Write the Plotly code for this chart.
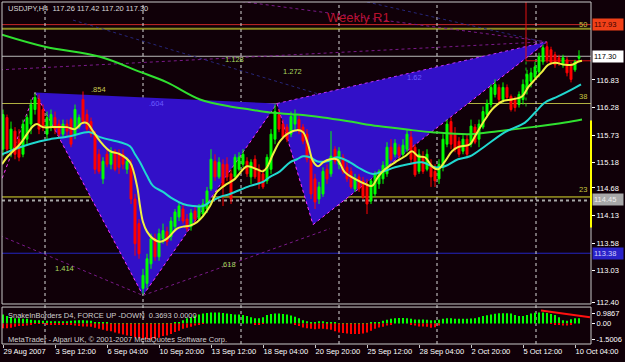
import plotly.graph_objects as go

# ---------------- data ----------------
title_text = "USDJPY,H4  117.26 117.42 117.20 117.30"

opens = [115.45, 116.08, 115.45, 115.81, 115.65, 115.35, 115.65, 115.95, 116.24, 116.44,
         116.24, 115.75, 115.89, 116.08, 115.95, 115.75, 115.95, 116.04, 115.75, 115.89,
         116.44, 116.14, 116.00, 115.75, 115.35, 114.86, 115.35, 115.15, 115.41, 115.35,
         115.35, 115.05, 115.15, 114.46, 113.97, 112.68, 112.78, 113.17, 113.67, 113.31,
         113.67, 113.81, 113.71, 113.91, 114.10, 114.26, 114.06, 113.91, 114.22, 114.06,
         114.16, 114.26, 114.66, 115.21, 114.90, 115.15, 115.15, 114.96, 114.90, 115.05,
         115.15, 115.21, 114.90, 115.25, 115.05, 114.96, 114.82, 115.05, 115.65, 116.14,
         115.95, 115.89, 115.75, 115.95, 116.04, 115.89, 115.75, 115.25, 114.86, 114.46,
         114.56, 115.05, 114.96, 115.45, 115.15, 115.29, 115.09, 115.01, 114.66, 114.90,
         114.82, 114.76, 114.42, 114.56, 114.76, 114.86, 114.96, 115.49, 115.35, 115.49,
         115.35, 115.45, 115.69, 115.49, 115.01, 115.29, 115.05, 115.15, 115.01, 114.86,
         115.09, 115.55, 116.00, 115.75, 115.61, 115.41, 115.65, 115.55, 115.89, 115.65,
         115.89, 116.14, 116.34, 116.54, 116.68, 116.44, 116.68, 116.50, 116.44, 116.34,
         116.44, 116.64, 116.80, 116.88, 116.99, 117.19, 117.49, 117.43, 117.33, 117.27,
         117.13, 117.23, 117.13, 117.03, 117.26]
highs = [116.24, 116.14, 116.00, 115.89, 115.85, 116.04, 116.14, 116.44, 116.58, 116.54,
         116.34, 116.20, 116.24, 116.20, 116.04, 116.04, 116.04, 116.08, 116.34, 116.14,
         116.60, 116.24, 116.08, 115.81, 115.45, 115.29, 115.45, 115.49, 115.45, 115.45,
         115.45, 115.29, 115.25, 114.56, 114.06, 113.07, 113.37, 113.77, 113.77, 113.87,
         113.97, 113.91, 114.10, 114.26, 114.40, 114.34, 114.16, 114.26, 114.32, 114.36,
         114.46, 114.70, 115.45, 115.35, 115.29, 115.25, 115.29, 115.05, 115.35, 115.39,
         115.45, 115.29, 115.25, 115.33, 115.15, 115.05, 115.35, 115.85, 116.34, 116.24,
         116.04, 115.95, 116.20, 116.24, 116.12, 115.95, 115.85, 115.35, 114.96, 114.80,
         115.09, 115.15, 115.81, 115.51, 115.49, 115.35, 115.19, 115.09, 114.96, 114.96,
         114.90, 114.86, 114.86, 115.01, 115.05, 115.21, 115.59, 115.65, 115.65, 115.55,
         115.65, 115.85, 115.81, 115.55, 115.45, 115.41, 115.45, 115.25, 115.15, 115.25,
         115.75, 116.04, 116.08, 115.89, 115.69, 115.73, 115.75, 116.04, 115.95, 116.04,
         116.30, 116.44, 116.74, 116.84, 116.74, 116.78, 116.74, 116.54, 116.50, 116.60,
         116.84, 117.03, 117.07, 117.19, 117.37, 117.53, 117.59, 117.49, 117.39, 117.33,
         117.33, 117.29, 117.19, 117.23, 117.42]
lows = [115.31, 115.35, 115.29, 115.25, 115.21, 115.29, 115.55, 115.75, 116.14, 115.75,
        115.81, 115.65, 115.81, 115.75, 115.65, 115.69, 115.69, 115.49, 115.65, 115.85,
        115.95, 115.79, 115.69, 114.96, 114.96, 114.76, 115.09, 115.05, 115.01, 114.96,
        115.05, 114.96, 114.36, 113.33, 113.27, 112.54, 112.68, 113.07, 113.23, 113.23,
        113.57, 113.53, 113.63, 113.83, 114.02, 113.97, 113.81, 113.83, 113.97, 114.02,
        114.10, 114.18, 114.62, 114.82, 114.86, 114.32, 114.82, 114.36, 114.86, 115.01,
        115.09, 114.90, 114.76, 114.86, 114.66, 114.66, 114.76, 114.96, 115.55, 115.79,
        115.65, 115.59, 115.69, 115.85, 115.75, 115.55, 115.19, 114.46, 114.26, 114.36,
        114.50, 114.76, 114.90, 115.15, 115.05, 114.96, 114.80, 114.66, 114.60, 114.60,
        114.46, 114.16, 114.36, 114.50, 114.66, 114.76, 114.90, 115.21, 115.29, 115.25,
        115.29, 115.39, 115.15, 114.90, 114.96, 114.96, 115.01, 114.70, 114.70, 114.76,
        115.01, 115.49, 115.45, 115.39, 115.29, 115.35, 115.29, 115.49, 115.55, 115.49,
        115.85, 116.08, 116.28, 116.48, 116.38, 116.38, 116.44, 116.20, 116.20, 116.28,
        116.34, 116.54, 116.68, 116.84, 116.88, 117.13, 117.17, 117.13, 117.07, 117.11,
        117.07, 116.90, 116.78, 116.99, 117.20]
closes = [116.14, 115.45, 115.85, 115.35, 115.29, 115.95, 116.08, 116.34, 116.48, 115.85,
          115.89, 116.08, 116.14, 115.85, 115.75, 115.95, 115.81, 115.55, 116.24, 116.08,
          116.00, 115.85, 115.75, 115.05, 115.01, 115.21, 115.15, 115.41, 115.05, 115.09,
          115.15, 115.21, 114.46, 113.57, 113.37, 112.94, 113.27, 113.67, 113.31, 113.77,
          113.83, 113.61, 114.02, 114.20, 114.32, 114.02, 113.87, 114.18, 114.06, 114.30,
          114.36, 114.62, 115.25, 114.90, 115.19, 114.70, 114.90, 114.46, 115.29, 115.29,
          115.35, 114.96, 115.19, 114.90, 114.76, 114.70, 115.29, 115.75, 116.20, 115.85,
          115.69, 115.65, 116.10, 116.14, 115.81, 115.61, 115.25, 114.56, 114.40, 114.70,
          115.01, 114.86, 115.31, 115.21, 115.41, 115.01, 114.86, 114.70, 114.86, 114.66,
          114.50, 114.36, 114.82, 114.96, 115.01, 115.13, 115.49, 115.25, 115.57, 115.33,
          115.53, 115.75, 115.25, 114.94, 115.35, 115.01, 115.35, 114.90, 114.82, 115.15,
          115.65, 115.95, 115.55, 115.45, 115.35, 115.65, 115.35, 115.91, 115.59, 115.95,
          116.20, 116.36, 116.68, 116.74, 116.44, 116.68, 116.48, 116.24, 116.28, 116.54,
          116.74, 116.94, 116.97, 117.09, 117.29, 117.47, 117.23, 117.17, 117.13, 117.19,
          117.27, 116.97, 116.84, 117.19, 117.30]
bar_index = list(range(len(closes)))

# moving averages (bar, price)
ma_fast_bars = [-0.25, 1, 2.5, 4.25, 6, 7.5, 8.5, 10, 12.5, 16, 18, 19.75, 21, 22.5, 24.25, 26.75,
                29.25, 31.75, 33.5, 34.25, 35, 36, 37.5, 39.25, 41, 43.5, 45, 46.75, 48.5, 50,
                51.75, 53.5, 56, 58, 61, 63.5, 65, 66, 67.5, 69.25, 71, 73.5, 75, 76.25, 77.5,
                78.75, 80, 81.75, 83.5, 85.5, 88, 90.5, 92.25, 93.75, 95.5, 98, 100.5, 102.25,
                103.75, 105.5, 107.25, 108.75, 110.5, 112.25, 113.75, 116.75, 118, 120.5, 122.25,
                124.75, 127.25, 129.75, 131.25, 133, 134.75, 136.25, 138, 140.5, 142.25, 143.75, 144.75]
ma_fast_vals = [115.15, 115.29, 115.41, 115.55, 115.75, 115.91, 115.95, 115.89, 115.89, 115.89,
                115.85, 115.97, 115.97, 115.81, 115.61, 115.41, 115.35, 115.19, 114.72, 114.32,
                114.00, 113.81, 113.67, 113.61, 113.67, 113.87, 113.91, 113.93, 114.00, 114.12,
                114.32, 114.60, 114.76, 114.86, 115.11, 115.05, 115.01, 115.09, 115.35, 115.61,
                115.75, 115.83, 115.79, 115.55, 115.21, 115.11, 115.19, 115.25, 115.25, 114.99,
                114.86, 114.76, 114.72, 114.90, 115.05, 115.19, 115.31, 115.41, 115.31, 115.29,
                115.11, 115.05, 115.21, 115.41, 115.49, 115.55, 115.71, 116.04, 116.24, 116.40,
                116.44, 116.50, 116.68, 116.84, 116.99, 117.13, 117.17, 117.13, 117.13, 117.19, 117.21]

ma_mid_bars = [-0.25, 4.25, 9.25, 11.75, 16.75, 21.75, 24.25, 29.25, 31.75, 33, 34.25, 36, 37.5,
               40, 42.5, 45, 47.5, 50, 51.75, 54.25, 56.75, 61.75, 65, 66.75, 69.25, 71.75, 73.5,
               75, 76.75, 78.5, 81, 83.5, 86.75, 88.75, 92.25, 94.75, 98, 101.25, 104.75, 108,
               110.5, 113.75, 116.75, 120.5, 125.5, 130.5, 133, 135.5, 138.75, 142.25, 144.5]
ma_mid_vals = [115.35, 115.49, 115.61, 115.65, 115.71, 115.79, 115.69, 115.59, 115.51, 115.35,
               115.19, 114.92, 114.72, 114.60, 114.46, 114.36, 114.32, 114.32, 114.40, 114.50,
               114.56, 114.72, 114.80, 114.90, 115.01, 115.19, 115.25, 115.31, 115.29, 115.21,
               115.21, 115.29, 115.19, 115.09, 114.96, 115.00, 115.09, 115.15, 115.19, 115.09,
               115.11, 115.25, 115.31, 115.51, 115.79, 115.98, 116.18, 116.38, 116.50, 116.64, 116.74]

ma_slow_bars = [-0.25, 10.5, 24.25, 34.25, 41, 49.25, 56.75, 61.75, 66.75, 73.5, 80, 86.75,
                93.75, 102.25, 107.25, 116.75, 123.75, 132.25, 140.5, 144.75]
ma_slow_vals = [117.73, 117.49, 117.29, 116.99, 116.78, 116.44, 116.30, 116.24, 116.18, 116.14,
                116.08, 116.00, 115.91, 115.83, 115.79, 115.75, 115.81, 115.89, 115.98, 116.04]

# harmonic pattern points X, A, B, C, D (bar, price)
pattern_names = ["X", "A", "B", "C", "D"]
pattern_bars = [8, 35, 68.5, 77.5, 136]
pattern_prices = [116.58, 112.54, 116.36, 113.95, 117.59]
zigzag_start = (-0.75, 114.76)

# faint projection lines ((bar0, price0), (bar1, price1), colour)
proj_lines = [((-0.75, 117.03), (136, 117.59), "#7a1a8a"),
              ((56.75, 118.42), (136, 117.59), "#7a1a8a"),
              ((91, 118.38), (136, 117.57), "#26267a"),
              ((17.5, 118.02), (79.25, 116.54), "#26267a"),
              ((-0.75, 113.73), (35, 112.54), "#7a1a8a"),
              ((35, 112.54), (81.75, 113.87), "#7a1a8a")]

# ratio labels
ratio_texts = [".854", "1.128", "1.272", ".604", "1.62", "1.414", ".618"]
ratio_bars = [23.75, 57.75, 72.25, 38.25, 102.75, 15.25, 56.25]
ratio_prices = [116.64, 117.23, 117.00, 116.36, 116.88, 113.07, 113.15]
ratio_colors = ["#c8c850", "#a8d860", "#a8d860", "#6a5cff", "#6a5cff", "#a8d860", "#a8d860"]

# horizontal levels
weekly_r1 = 117.93
fib_levels = [117.85, 116.36, 114.50]
fib_labels = ["50", "38", "23"]
bid_price = 117.30
gray_level = 114.43
blue_level = 113.38
cross_bar = 130.75
cross_price = 117.21
cross_low = 116.30
axis_marker = (113.89, 116.02)

# axis ticks
price_ticks = [116.83, 116.28, 115.73, 115.18, 114.68, 114.13, 113.58, 113.03, 112.40]
price_labels = ["116.83", "116.28", "115.73", "115.18", "114.68", "114.13", "113.58", "113.03", "112.40"]
tag_prices = [117.93, 117.30, 114.45, 113.38]
tag_texts = ["117.93", "117.30", "114.45", "113.38"]
tag_bg = ["#f04018", "#ffffff", "#a8a8a8", "#2a22c8"]
tag_fg = ["#3a0000", "#000000", "#eeeeee", "#d0d0ff"]

osc_ticks = [0.9867, 0.0, -1.5006]
osc_labels = ["0.9867", "0.00", "-1.5006"]

time_tick_bars = [0, 13, 26, 39, 52, 65, 78, 91, 104, 117, 130, 143]
time_tick_labels = ["29 Aug 2007", "3 Sep 12:00", "6 Sep 04:00", "10 Sep 20:00", "13 Sep 12:00",
                    "18 Sep 04:00", "20 Sep 20:00", "25 Sep 12:00", "28 Sep 04:00", "2 Oct 20:00",
                    "5 Oct 12:00", "10 Oct 04:00"]
grid_bars = [10.5, 35, 59.5, 84, 108.5, 133.25]

# oscillator (force up / down)
osc_up = [0.86, 0.70, 0.60, 0.50, 0.50, 0.45, 0.45, 0.35, 0.30, 0.30,
          0.25, 0.25, 0.22, 0.22, 0.20, 0.22, 0.22, 0.25, 0.28, 0.30,
          0.30, 0.28, 0.25, 0.15, 0.10, 0.05, 0.05, 0.03, 0.02, 0.02,
          0.02, 0.02, 0.02, 0.02, 0.02, 0.02, 0.02, 0.02, 0.02, 0.02,
          0.02, 0.02, 0.02, 0.05, 0.10, 0.30, 0.50, 0.60, 0.75, 0.85,
          0.95, 1.00, 1.05, 1.05, 1.05, 1.00, 0.95, 0.90, 0.86, 0.86,
          0.80, 0.70, 0.60, 0.50, 0.50, 0.60, 0.80, 0.90, 0.95, 0.95,
          0.90, 0.85, 0.75, 0.65, 0.50, 0.30, 0.20, 0.15, 0.15, 0.20,
          0.20, 0.15, 0.10, 0.05, 0.02, 0.02, 0.02, 0.02, 0.02, 0.02,
          0.02, 0.02, 0.05, 0.10, 0.15, 0.25, 0.35, 0.45, 0.50, 0.53,
          0.53, 0.50, 0.45, 0.38, 0.38, 0.38, 0.35, 0.30, 0.30, 0.35,
          0.45, 0.50, 0.50, 0.45, 0.45, 0.45, 0.45, 0.48, 0.50, 0.60,
          0.70, 0.77, 0.85, 0.92, 0.98, 0.98, 0.98, 0.95, 0.80, 0.70,
          0.70, 0.80, 0.95, 1.02, 1.05, 1.05, 1.00, 0.90, 0.80, 0.60,
          0.30, 0.25, 0.40, 0.50, 0.50]
osc_dn = [-0.45, -0.45, -0.40, -0.30, -0.25, -0.25, -0.20, -0.10, -0.05, -0.05,
          -0.05, -0.10, -0.12, -0.14, -0.14, -0.14, -0.14, -0.15, -0.20, -0.25,
          -0.29, -0.29, -0.30, -0.40, -0.50, -0.60, -0.68, -0.75, -0.85, -0.95,
          -1.05, -1.14, -1.20, -1.30, -1.40, -1.45, -1.50, -1.50, -1.45, -1.35,
          -1.20, -1.14, -1.00, -0.80, -0.68, -0.50, -0.40, -0.30, -0.20, -0.10,
          -0.05, 0, 0, 0, 0, 0, 0, 0, 0, 0,
          0, 0, 0, -0.10, -0.10, -0.05, 0, 0, 0, 0,
          0, 0, 0, -0.10, -0.23, -0.38, -0.45, -0.50, -0.55, -0.50,
          -0.50, -0.55, -0.60, -0.75, -0.85, -0.90, -0.95, -1.00, -1.00, -1.00,
          -0.95, -0.85, -0.68, -0.50, -0.38, -0.30, -0.20, -0.10, 0, 0,
          0, 0, -0.10, -0.20, -0.29, -0.29, -0.30, -0.40, -0.35, -0.20,
          0, 0, 0, 0, 0, 0, 0, 0, 0, 0,
          0, 0, 0, 0, 0, 0, 0, 0, 0, 0,
          0, 0, 0, 0, 0, 0, 0, -0.05, -0.10, -0.15,
          -0.20, -0.20, -0.10, 0, 0]
osc_trend_bars = [134.5, 146.75]
osc_trend_vals = [1.23, 0.59]

# ---------------- styles ----------------
BG = "#100008"
FONT = "Liberation Sans"
TRI = "#3210c8"
X_RANGE = [-0.25, 147.0]
Y_RANGE = [112.37, 118.38]
Y2_RANGE = [-1.95, 1.56]
MAIN_DOM = [0.117, 1.0]
OSC_DOM = [0.0, 0.108]

fig = go.Figure()

fig.add_trace(go.Candlestick(
    x=bar_index, open=opens, high=highs, low=lows, close=closes,
    increasing=dict(line=dict(color="#00ff00", width=1), fillcolor="#00ff00"),
    decreasing=dict(line=dict(color="#ff0000", width=1), fillcolor="#ff0000"),
    whiskerwidth=0, xaxis="x", yaxis="y", hoverinfo="skip"))

fig.add_trace(go.Scatter(x=ma_slow_bars, y=ma_slow_vals, mode="lines", line=dict(color="#30e030", width=2, shape="spline"),
                         xaxis="x", yaxis="y", hoverinfo="skip"))
fig.add_trace(go.Scatter(x=ma_mid_bars, y=ma_mid_vals, mode="lines", line=dict(color="#20d8d0", width=2, shape="spline"),
                         xaxis="x", yaxis="y", hoverinfo="skip"))
fig.add_trace(go.Scatter(x=ma_fast_bars, y=ma_fast_vals, mode="lines", line=dict(color="#f0f040", width=2, shape="spline"),
                         xaxis="x", yaxis="y", hoverinfo="skip"))

fig.add_trace(go.Bar(x=bar_index, y=osc_up, marker=dict(color="#00ff00", line=dict(width=0)), width=0.5,
                     xaxis="x", yaxis="y2", hoverinfo="skip"))
fig.add_trace(go.Bar(x=bar_index, y=osc_dn, marker=dict(color="#ff0000", line=dict(width=0)), width=0.5,
                     xaxis="x", yaxis="y2", hoverinfo="skip"))
fig.add_trace(go.Scatter(x=osc_trend_bars, y=osc_trend_vals, mode="lines", line=dict(color="#ff1010", width=2),
                         xaxis="x", yaxis="y2", hoverinfo="skip", cliponaxis=False))

shapes = []
# triangles XAB and BCD
X, A, B, C, D = list(zip(pattern_bars, pattern_prices))
def tri_path(p, q, r):
    return f"M {p[0]},{p[1]} L {q[0]},{q[1]} L {r[0]},{r[1]} Z"
for tri in [(X, A, B), (B, C, D)]:
    shapes.append(dict(type="path", xref="x", yref="y", path=tri_path(*tri), fillcolor=TRI,
                       line=dict(width=0), layer="below"))
# zigzag dotted outline
zz = [zigzag_start, X, A, B, C, D]
for p, q in zip(zz[:-1], zz[1:]):
    shapes.append(dict(type="line", xref="x", yref="y", x0=p[0], y0=p[1], x1=q[0], y1=q[1],
                       line=dict(color="#ff30ff", width=1, dash="dot"), layer="below"))
shapes.append(dict(type="line", xref="x", yref="y", x0=B[0], y0=B[1], x1=D[0], y1=D[1],
                   line=dict(color="#c030ff", width=1, dash="dot"), layer="below"))
for p, q, col in proj_lines:
    shapes.append(dict(type="line", xref="x", yref="y", x0=p[0], y0=p[1], x1=q[0], y1=q[1],
                       line=dict(color=col, width=1, dash="dot"), layer="below"))

# horizontal levels
def hline(price, color, width=1, dash="solid"):
    shapes.append(dict(type="line", xref="x domain", yref="y", x0=0, x1=1, y0=price, y1=price,
                       line=dict(color=color, width=width, dash=dash), layer="below"))
hline(weekly_r1, "#c82828")
hline(fib_levels[0], "#8a8a20", 2)
hline(bid_price, "#b8b8b8")
hline(fib_levels[1], "#b0b040")
hline(fib_levels[2], "#e0e030")
hline(gray_level, "#a8a8a8", 2, "dot")
hline(blue_level, "#2424c0")

# dashed vertical grid
for gb in grid_bars:
    shapes.append(dict(type="line", xref="x", yref="paper", x0=gb, x1=gb, y0=0, y1=1,
                       line=dict(color="#d8d8d8", width=1, dash="3px,3px"), layer="below"))

# cross-hair
shapes.append(dict(type="line", xref="x", yref="y", x0=cross_bar, x1=cross_bar, y0=cross_price, y1=Y_RANGE[1],
                   line=dict(color="#e01010", width=1), layer="below"))
shapes.append(dict(type="line", xref="x", yref="y", x0=cross_bar, x1=X_RANGE[1], y0=cross_price, y1=cross_price,
                   line=dict(color="#e01010", width=1), layer="below"))
shapes.append(dict(type="line", xref="x", yref="y", x0=cross_bar, x1=cross_bar, y0=cross_low, y1=cross_price,
                   line=dict(color="#20c020", width=1, dash="dot"), layer="below"))

# frames
for dom in (MAIN_DOM, OSC_DOM):
    shapes.append(dict(type="rect", xref="paper", yref="paper", x0=0, x1=1, y0=dom[0], y1=dom[1],
                       line=dict(color="#c8c8c8", width=1), layer="above"))
# yellow marker on price axis
shapes.append(dict(type="line", xref="paper", yref="y", x0=1.0, x1=1.0, y0=axis_marker[0], y1=axis_marker[1],
                   line=dict(color="#ffff00", width=2), layer="above"))

annotations = []
small = dict(family=FONT, size=7.5)
annotations.append(dict(xref="paper", yref="paper", x=0.006, y=0.982, text=title_text, showarrow=False,
                        xanchor="left", yanchor="middle", font=dict(small, color="#d8d8d8")))
annotations.append(dict(xref="x", yref="y", x=88.75, y=118.08, text="Weekly R1", showarrow=False,
                        font=dict(family=FONT, size=13, color="#b8102c")))
for t, b, p, c in zip(ratio_texts, ratio_bars, ratio_prices, ratio_colors):
    annotations.append(dict(xref="x", yref="y", x=b, y=p, text=t, showarrow=False, font=dict(small, color=c)))
for lvl, lab, off in zip(fib_levels, fib_labels, [0.08, 0.13, 0.15]):
    annotations.append(dict(xref="paper", yref="y", x=0.997, y=lvl + off, text=lab, showarrow=False,
                            xanchor="right", font=dict(small, color="#c8c840")))
for p, t, bg, fg in zip(tag_prices, tag_texts, tag_bg, tag_fg):
    annotations.append(dict(xref="paper", yref="y", x=1.0017, y=p, text=t, showarrow=False, xanchor="left",
                            bgcolor=bg, borderpad=1, width=28, align="left", font=dict(small, color=fg)))
annotations.append(dict(xref="paper", yref="paper", x=0.007, y=0.083, text="SnakeInBorders D4, FORCE UP -DOWN  0.3693 0.0000",
                        showarrow=False, xanchor="left", yanchor="middle", font=dict(small, color="#d0d0d0")))
annotations.append(dict(xref="paper", yref="paper", x=0.006, y=0.012,
                        text="MetaTrader - Alpari UK, © 2001-2007 MetaQuotes Software Corp.",
                        showarrow=False, xanchor="left", yanchor="middle", font=dict(small, color="#d0d0d0")))

axis_font = dict(family=FONT, size=7.5, color="#ffffff")
fig.update_layout(
    width=625, height=362, margin=dict(l=2, r=34, t=2, b=18),
    paper_bgcolor=BG, plot_bgcolor=BG, showlegend=False, barmode="overlay",
    shapes=shapes, annotations=annotations,
    xaxis=dict(range=X_RANGE, anchor="y2", showgrid=False, zeroline=False, showline=False,
               tickvals=time_tick_bars, ticktext=time_tick_labels, ticklabelposition="outside right",
               tickangle=0, ticks="outside", ticklen=3, tickcolor="#c8c8c8", tickfont=axis_font,
               rangeslider=dict(visible=False), fixedrange=True),
    yaxis=dict(domain=MAIN_DOM, range=Y_RANGE, side="right", anchor="x", showgrid=False, zeroline=False,
               tickvals=price_ticks, ticktext=price_labels, ticks="outside", ticklen=3,
               tickcolor="#ffffff", tickfont=axis_font),
    yaxis2=dict(domain=OSC_DOM, range=Y2_RANGE, side="right", anchor="x", showgrid=False, zeroline=False,
                tickvals=osc_ticks, ticktext=osc_labels, ticks="outside", ticklen=3,
                tickcolor="#ffffff", tickfont=axis_font),
)

fig.write_html("out.html")
